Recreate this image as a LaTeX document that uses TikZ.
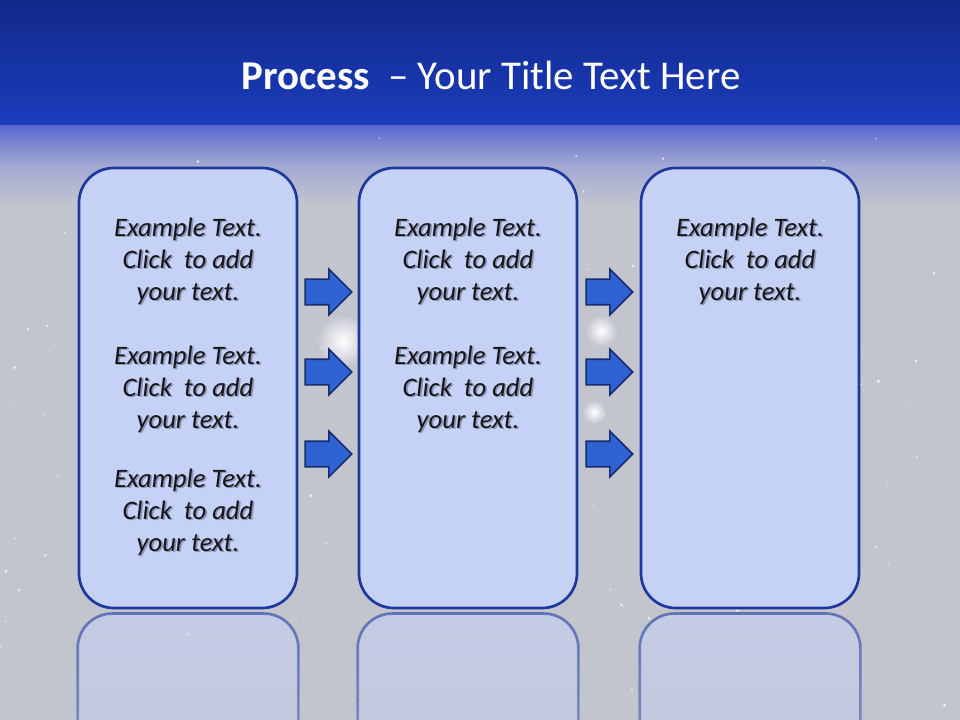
\documentclass[tikz,border=0pt]{standalone}
\usepackage{fontspec}
\setmainfont{Carlito}
\usetikzlibrary{positioning, calc, shapes.arrows, fadings}

\definecolor{bandtop}{HTML}{12298A}
\definecolor{bandbot}{HTML}{1B3DBD}
\definecolor{haze}{HTML}{5A69CF}
\definecolor{hazemid}{HTML}{A3A9D3}
\definecolor{skygrey}{HTML}{C2C4CE}
\definecolor{boxfill}{HTML}{C6D1F6}
\definecolor{boxline}{HTML}{1D389C}
\definecolor{arrfill}{HTML}{2F62D2}
\definecolor{arrline}{HTML}{172C6E}
\definecolor{txtshade}{HTML}{8A93B8}
\definecolor{txtink}{HTML}{161616}

\tikzfading[name=reflfade, top color=transparent!42, bottom color=transparent!100]
\tikzfading[name=glowfade, inner color=transparent!0, outer color=transparent!100]

% text line with a soft drop shadow
\newcommand{\shline}[1]{\makebox[0pt][l]{\hspace{1.3pt}\raisebox{-1.3pt}{\textcolor{txtshade}{#1}}}#1}
\newcommand{\exampletext}{\shline{Example Text.}\\ \shline{Click\ \ to add}\\ \shline{your text.}}

\begin{document}
\begin{tikzpicture}[x=0.75pt, y=-0.75pt,
    node distance=44.5pt,
    stagebox/.style={draw=boxline, line width=2pt, fill=boxfill,
                     rounded corners=26pt, minimum width=163.5pt,
                     minimum height=330pt, inner sep=0pt},
    stagetext/.style={align=center, text=txtink,
                      font=\fontsize{20}{24}\selectfont\itshape},
    stepto/.style={single arrow, draw=arrline, line width=1.2pt,
                   fill=arrfill, minimum height=35pt, inner xsep=0pt,
                   inner ysep=9pt, single arrow head extend=7.5pt,
                   xshift=-4.5pt},
    reflect/.style={draw=boxline, line width=2pt, fill=boxfill,
                    rounded corners=26pt, path fading=reflfade}]
  \useasboundingbox (0,0) rectangle (960,720);

  % background
  \fill[top color=bandtop, bottom color=bandbot] (0,0) rectangle (960,126);
  \fill[top color=haze, bottom color=skygrey, middle color=hazemid] (0,126) rectangle (960,205);
  \fill[skygrey] (0,205) rectangle (960,720);
  \pgfmathsetseed{11}
  \foreach \i in {1,...,110} {
    \pgfmathsetmacro\sx{rnd*960}
    \pgfmathsetmacro\sy{135+rnd*585}
    \pgfmathsetmacro\sr{0.4+rnd*0.9}
    \fill[white, opacity=0.75] (\sx,\sy) circle (\sr pt);
  }
  \fill[white, path fading=glowfade] (343,341) circle (20pt);
  \fill[white, path fading=glowfade] (601,331) circle (12pt);
  \fill[white, path fading=glowfade] (594,412) circle (9pt);

  \node[font=\fontsize{30.7}{36}\selectfont, text=white] (title) at (491,75)
    {\textbf{Process}\ \ – Your Title Text Here};

  % stages
  \node[stagebox] (b1) at (188,388) {};
  \node[stagebox, right=of b1] (b2) {};
  \node[stagebox, right=46pt of b2] (b3) {};

  % reflections
  \foreach \b in {b1,b2,b3}
    \path[reflect] ([yshift=-3pt]\b.south west) rectangle ([yshift=-333pt]\b.south east);

  \coordinate (r1) at (0,262);
  \coordinate (r2) at (0,390);
  \coordinate (r3) at (0,513);
  \node[stagetext] (t11) at (b1.center |- r1) {\exampletext};
  \node[stagetext] (t12) at (b1.center |- r2) {\exampletext};
  \node[stagetext] (t13) at (b1.center |- r3) {\exampletext};
  \node[stagetext] (t21) at (b2.center |- r1) {\exampletext};
  \node[stagetext] (t22) at (b2.center |- r2) {\exampletext};
  \node[stagetext] (t31) at (b3.center |- r1) {\exampletext};

  % arrows between stages
  \coordinate (g1) at ($(b1.east)!0.5!(b2.west)$);
  \coordinate (g2) at ($(b2.east)!0.5!(b3.west)$);
  \foreach \y [count=\k] in {292,372,454} {
    \coordinate (ay) at (0,\y);
    \node[stepto] (a1\k) at (g1 |- ay) {};
    \node[stepto] (a2\k) at (g2 |- ay) {};
  }
\end{tikzpicture}
\end{document}
